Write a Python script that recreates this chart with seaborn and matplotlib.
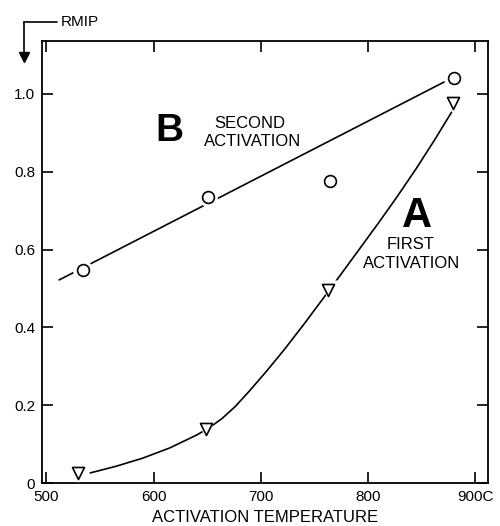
import numpy as np
import pandas as pd
import matplotlib
matplotlib.use("Agg")
import matplotlib.pyplot as plt
from matplotlib.lines import Line2D
import seaborn as sns

temp_b = [534, 651, 765, 880]
rmip_b = [0.548, 0.735, 0.776, 1.041]
temp_a = [530, 649, 763, 879]
rmip_a = [0.025, 0.139, 0.496, 0.977]

# hand-drawn lines through the points
line_b_temp = [512, 872]
line_b_rmip = [0.522, 1.032]
curve_a_temp = [541, 565, 590, 615, 640, 652, 664, 676, 688, 705, 722, 740, 763,
                792, 810, 827, 845, 862, 878]
curve_a_rmip = [0.026, 0.043, 0.064, 0.090, 0.123, 0.142, 0.166, 0.196, 0.232, 0.286,
                0.343, 0.407, 0.492, 0.601, 0.669, 0.735, 0.808, 0.881, 0.953]

x_ticks = [500, 600, 700, 800, 900]
x_tick_labels = ["500", "600", "700", "800", "900C"]
y_ticks = [0, 0.2, 0.4, 0.6, 0.8, 1.0]
y_tick_labels = ["0", "0.2", "0.4", "0.6", "0.8", "1.0"]

sns.set_style("ticks")
plt.rcParams['font.family'] = ['Liberation Sans', 'DejaVu Sans']
plt.rcParams['text.color'] = 'black'
plt.rcParams['axes.labelcolor'] = 'black'

pts_b = pd.DataFrame({'temp': temp_b, 'rmip': rmip_b})
pts_a = pd.DataFrame({'temp': temp_a, 'rmip': rmip_a})
line_b = pd.DataFrame({'temp': line_b_temp, 'rmip': line_b_rmip})
curve_a = pd.DataFrame({'temp': curve_a_temp, 'rmip': curve_a_rmip})

fig = plt.figure(figsize=(5, 5.26), dpi=100)
ax = fig.add_axes([0.084, 0.0817, 0.892, 0.8403])

# lines
sns.lineplot(data=line_b, x='temp', y='rmip', color='black', linewidth=1.2, ax=ax, zorder=2)
sns.lineplot(data=curve_a, x='temp', y='rmip', color='black', linewidth=1.2, ax=ax, zorder=2,
             sort=False)

# white halo under markers gives the small gap in the lines
sns.scatterplot(data=pts_b, x='temp', y='rmip', marker='o', s=200, color='white',
                edgecolor='none', ax=ax, zorder=3)
sns.scatterplot(data=pts_a, x='temp', y='rmip', marker='v', s=190, color='white',
                edgecolor='none', ax=ax, zorder=3)
sns.scatterplot(data=pts_b, x='temp', y='rmip', marker='o', s=72, facecolor='white',
                edgecolor='black', linewidth=1.2, ax=ax, zorder=4)
sns.scatterplot(data=pts_a, x='temp', y='rmip', marker='v', s=75, facecolor='white',
                edgecolor='black', linewidth=1.2, ax=ax, zorder=4)

ax.set_xlim(496, 912)
ax.set_ylim(0, 1.136)
ax.set_xticks(x_ticks)
ax.set_xticklabels(x_tick_labels)
ax.set_yticks(y_ticks)
ax.set_yticklabels(y_tick_labels)
ax.tick_params(direction='in', length=8, width=1.2, top=True, right=True,
               labelsize=11, pad=5, colors='black')
for sp in ax.spines.values():
    sp.set_visible(True)
    sp.set_linewidth(1.3)
    sp.set_color('black')

ax.set_xlabel("ACTIVATION TEMPERATURE", fontsize=12, labelpad=4)
ax.set_ylabel("")

# curve labels
ax.text(615, 0.905, "B", fontsize=28, fontweight='bold', ha='center', va='center')
ax.text(690, 0.925, "SECOND", fontsize=12, ha='center', va='center')
ax.text(692, 0.879, "ACTIVATION", fontsize=12, ha='center', va='center')
ax.text(846, 0.686, "A", fontsize=30, fontweight='bold', ha='center', va='center')
ax.text(840, 0.614, "FIRST", fontsize=12, ha='center', va='center')
ax.text(841, 0.564, "ACTIVATION", fontsize=12, ha='center', va='center')

# RMIP with the bent arrow in the corner
fig.text(61 / 500, 1 - 22 / 526, "RMIP", fontsize=11, ha='left', va='center')
fig.add_artist(Line2D([24 / 500, 57 / 500], [1 - 22 / 526, 1 - 22 / 526],
                      color='black', linewidth=1.2))
fig.add_artist(Line2D([24 / 500, 24 / 500], [1 - 22 / 526, 1 - 52 / 526],
                      color='black', linewidth=1.2))
fig.add_artist(Line2D([24 / 500], [1 - 57 / 526], marker='v', markersize=7,
                      color='black', linestyle='none'))

fig.savefig("out.png", dpi=100)
